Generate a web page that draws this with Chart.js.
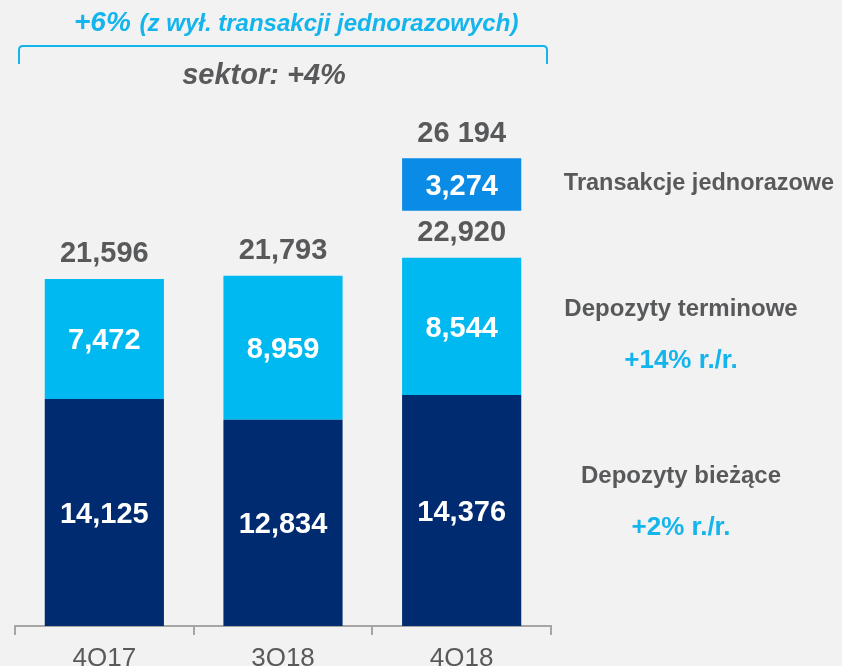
<!DOCTYPE html>
<html><head><meta charset="utf-8">
<script src="https://cdn.jsdelivr.net/npm/chart.js@4.4.1/dist/chart.umd.min.js"></script>
<style>html,body{margin:0;padding:0;background:#f2f2f2;}canvas{display:block;}</style>
</head><body>
<canvas id="c" width="842" height="666"></canvas>
<script>
// ---- data ----
const categories = ['4Q17', '3Q18', '4Q18'];
const currentDeposits = [14125, 12834, 14376];     // Depozyty bieżące
const termDeposits = [7472, 8959, 8544];           // Depozyty terminowe
const oneOffGap = [0, 0, 2925];                    // empty space between 22,920 and the one-off block
const oneOffTransactions = [0, 0, 3274];           // Transakcje jednorazowe
const totalLabels = ['21,596', '21,793', '22,920'];
const oneOffTotalLabel = '26 194';
const legendTexts = ['Transakcje jednorazowe', 'Depozyty terminowe', '+14% r./r.', 'Depozyty bieżące', '+2% r./r.'];
const headerMain = '+6%';
const headerRest = '(z wył. transakcji jednorazowych)';
const headerSector = 'sektor: +4%';

// ---- style ----
const NAVY = '#002b70', CYAN = '#00b9f1', BLUE = '#0a8ce6', GRAY = '#58595b', AX = '#a6a6a6', CYANTXT = '#14b4ec';
const F = '"Liberation Sans", Arial, sans-serif';
const fmt = v => v.toLocaleString('en-US');

const labelPlugin = {
  id: 'labels',
  afterDraw(chart) {
    const c = chart.ctx;
    c.save();
    c.textAlign = 'center';
    c.textBaseline = 'alphabetic';
    const NUM = 29;
    const inner = (meta, vals) => {
      meta.data.forEach((el, i) => {
        if (!vals[i]) return;
        const mid = (el.y + el.base) / 2;
        c.fillStyle = '#ffffff';
        c.font = 'bold ' + NUM + 'px ' + F;
        c.fillText(fmt(vals[i]), el.x, mid + NUM * 0.358);
      });
    };
    const m0 = chart.getDatasetMeta(0), m1 = chart.getDatasetMeta(1), m3 = chart.getDatasetMeta(3);
    inner(m0, currentDeposits);
    inner(m1, termDeposits);
    inner(m3, oneOffTransactions);
    // totals above the deposit stacks
    c.fillStyle = GRAY;
    c.font = 'bold ' + NUM + 'px ' + F;
    m1.data.forEach((el, i) => {
      c.fillText(totalLabels[i], el.x, el.y - 17);
    });
    m3.data.forEach((el, i) => {
      if (!oneOffTransactions[i]) return;
      c.fillText(oneOffTotalLabel, el.x, el.y - 16);
    });
    // right-side legend texts
    c.fillStyle = GRAY;
    c.font = 'bold 23.5px ' + F;
    c.fillText(legendTexts[0], 699, 190);
    c.font = 'bold 24px ' + F;
    c.fillText(legendTexts[1], 681, 316);
    c.fillText(legendTexts[3], 681, 483);
    c.fillStyle = CYANTXT;
    c.font = 'bold 26px ' + F;
    c.fillText(legendTexts[2], 681, 368);
    c.fillText(legendTexts[4], 681, 535);
    // header
    c.textAlign = 'left';
    c.fillStyle = CYANTXT;
    c.font = 'italic bold 28px ' + F;
    c.fillText(headerMain, 74, 31);
    const w1 = c.measureText(headerMain + ' ').width;
    c.font = 'italic bold 24px ' + F;
    c.fillText(headerRest, 74 + w1 + 1, 31);
    // bracket
    c.strokeStyle = CYANTXT;
    c.lineWidth = 2;
    c.beginPath();
    c.moveTo(19, 64);
    c.lineTo(19, 50);
    c.quadraticCurveTo(19, 46, 23, 46);
    c.lineTo(543, 46);
    c.quadraticCurveTo(547, 46, 547, 50);
    c.lineTo(547, 64);
    c.stroke();
    c.textAlign = 'center';
    c.fillStyle = GRAY;
    c.font = 'italic bold 29px ' + F;
    c.fillText(headerSector, 264, 84);
    c.restore();
  }
};

new Chart(document.getElementById('c').getContext('2d'), {
  type: 'bar',
  data: {
    labels: categories,
    datasets: [
      { label: 'Depozyty bieżące', data: currentDeposits, backgroundColor: NAVY, stack: 's' },
      { label: 'Depozyty terminowe', data: termDeposits, backgroundColor: CYAN, stack: 's' },
      { label: 'gap', data: oneOffGap, backgroundColor: 'rgba(0,0,0,0)', stack: 's' },
      { label: 'Transakcje jednorazowe', data: oneOffTransactions, backgroundColor: BLUE, stack: 's' }
    ]
  },
  options: {
    responsive: false,
    animation: false,
    layout: { padding: { top: 144, left: 15, right: 291, bottom: 0 } },
    plugins: { legend: { display: false }, tooltip: { enabled: false } },
    datasets: { bar: { barPercentage: 0.667, categoryPercentage: 1.0, borderWidth: 0 } },
    scales: {
      x: {
        stacked: true,
        offset: true,
        grid: { display: true, offset: true, drawOnChartArea: false, drawTicks: true, tickLength: 9, tickColor: AX, tickWidth: 2, lineWidth: 2, color: AX },
        border: { display: true, color: AX, width: 2 },
        ticks: { color: GRAY, font: { family: F, size: 26 }, padding: 8 },
        afterFit(s) { s.height = 40; }
      },
      y: { stacked: true, display: false, min: 0, max: 30000 }
    }
  },
  plugins: [labelPlugin]
});
</script>
</body></html>
